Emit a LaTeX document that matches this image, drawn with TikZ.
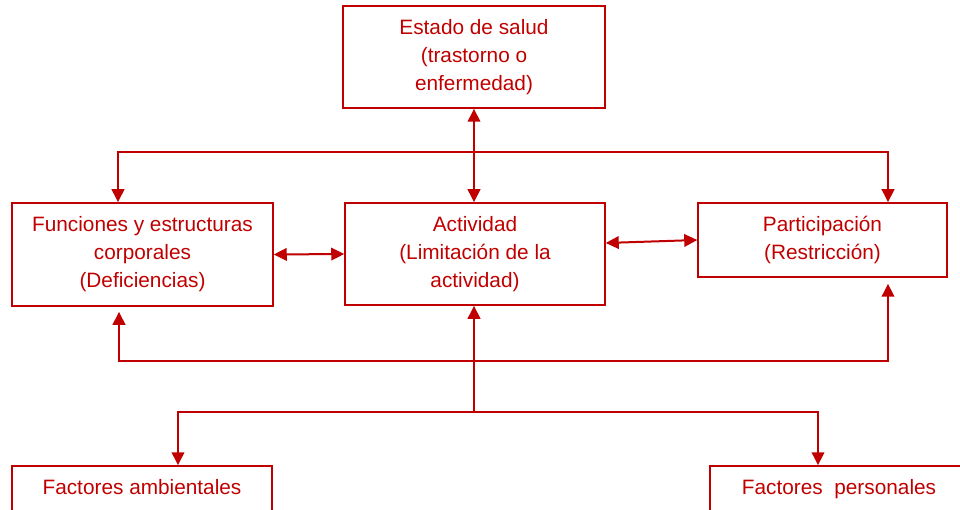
\documentclass[tikz,border=0pt]{standalone}
\usepackage{fontspec}
\setmainfont{Liberation Sans}
\usetikzlibrary{arrows.meta}
\definecolor{icfred}{HTML}{C00000}
\begin{document}
\begin{tikzpicture}[x=1pt,y=-1pt,
  tip/.tip={Triangle[length=13pt,width=12.5pt]},
  box/.style={draw=icfred, line width=1.5pt, text=icfred, align=center,
    inner sep=0pt, font=\fontsize{20.8}{28}\selectfont},
  conn/.style={draw=icfred, line width=2pt, arrows={-tip}},
  biconn/.style={draw=icfred, line width=2pt, arrows={tip-tip}}]
\useasboundingbox (0,0) rectangle (960,510);
\clip (0,0) rectangle (960,510);
% boxes
\node[box, minimum width=262pt, minimum height=102pt] (salud) at (474,57)
  {Estado de salud\\(trastorno o\\enfermedad)};
\node[box, minimum width=261pt, minimum height=103pt] (func) at (142.5,254.5)
  {Funciones y estructuras\\corporales\\(Deficiencias)};
\node[box, minimum width=260pt, minimum height=102pt] (act) at (475,254)
  {Actividad\\(Limitación de la\\actividad)};
\node[box, minimum width=249pt, minimum height=74pt] (part) at (822.5,240)
  {Participación\\(Restricción)};
\node[box, minimum width=260pt, minimum height=46pt] (amb) at (142,489)
  {\strut Factores ambientales};
\node[box, minimum width=258pt, minimum height=46pt] (pers) at (839,489)
  {\strut Factores~ personales};
% coordinates
\coordinate (tl) at (118,152);
\coordinate (tr) at (888,152);
\coordinate (bl) at (119,361);
\coordinate (br) at (888,361);
\coordinate (jc) at (474,412);
\coordinate (jl) at (178,412);
\coordinate (jr) at (818,412);
% connectors
\draw[biconn] (salud.south) -- (salud.south |- act.north);
\draw[biconn] (func.north -| tl) -- (tl) -- (tr) -- (part.north -| tr);
\draw[biconn, shorten <=5pt, shorten >=6pt] (func.south -| bl) -- (bl) -- (br) -- (part.south -| br);
\draw[biconn] (func.east) -- (act.west);
\draw[biconn] ([yshift=11pt]act.east) -- (part.west);
\draw[conn] (jc) -- (act.south -| jc);
\draw[biconn] (amb.north -| jl) -- (jl) -- (jr) -- (pers.north -| jr);
\end{tikzpicture}
\end{document}
